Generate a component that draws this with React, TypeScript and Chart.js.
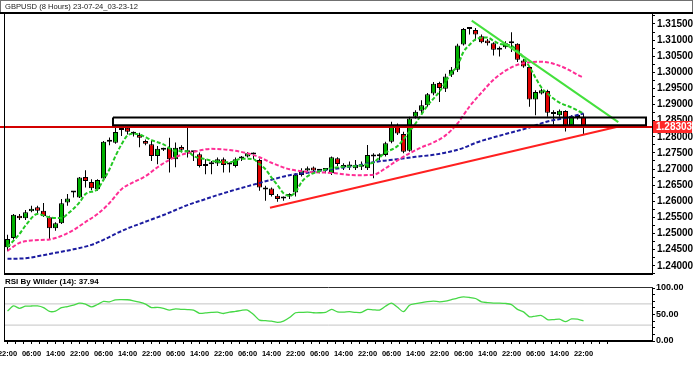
import React, { useEffect, useRef } from 'react';
import { Chart, registerables } from 'chart.js';

Chart.register(...registerables);

const TITLE = 'GBPUSD (8 Hours) 23-07-24_03-23-12';
const RSI_TITLE = 'RSI By Wilder (14): 37.94';
const FONT = '"Liberation Sans", Arial, sans-serif';

// ---- candles (8h bars) ----
const opens = [
  1.24577, 1.24864, 1.25553, 1.25473, 1.25689, 1.25812, 1.25707, 1.25503, 1.25164, 1.25318,
  1.25966, 1.26269, 1.26121, 1.26757, 1.26602, 1.26377, 1.26707, 1.27849, 1.27812, 1.28213,
  1.28281, 1.28105, 1.28059, 1.27868, 1.27766, 1.27405, 1.27611, 1.27664, 1.27303, 1.27682,
  1.27580, 1.27528, 1.27457, 1.27108, 1.27148, 1.27170, 1.27303, 1.27139, 1.27096, 1.27324,
  1.27386, 1.27448, 1.27281, 1.26377, 1.26398, 1.26170, 1.26090, 1.26152, 1.26269, 1.26818,
  1.26954, 1.27047, 1.26948, 1.26979, 1.26871, 1.27334, 1.27127, 1.27078, 1.27025, 1.27071,
  1.27025, 1.27436, 1.27411, 1.27436, 1.27849, 1.28331, 1.28084, 1.27571, 1.28621, 1.28806,
  1.28979, 1.29340, 1.29670, 1.29494, 1.29926, 1.30081, 1.30861, 1.31340, 1.31315, 1.31121,
  1.30985, 1.30905, 1.30698, 1.30781, 1.30898, 1.30883, 1.30368, 1.30164, 1.29155, 1.29340,
  1.29423, 1.28722, 1.28670, 1.28800, 1.28361, 1.28627, 1.28621,
];
const highs = [
  1.24966, 1.25605, 1.25605, 1.25729, 1.25861, 1.25861, 1.25945, 1.25553, 1.25349, 1.26068,
  1.26223, 1.26306, 1.26757, 1.26963, 1.26686, 1.26686, 1.27868, 1.27982, 1.28275, 1.28331,
  1.28321, 1.28167, 1.28127, 1.27920, 1.27868, 1.27713, 1.27664, 1.27972, 1.27827, 1.27735,
  1.28331, 1.27559, 1.27510, 1.27303, 1.27250, 1.27355, 1.27355, 1.27201, 1.27355, 1.27405,
  1.27528, 1.27510, 1.27324, 1.26479, 1.26429, 1.26223, 1.26152, 1.26253, 1.26871, 1.27025,
  1.27078, 1.27078, 1.26994, 1.27025, 1.27386, 1.27365, 1.27179, 1.27232, 1.27281, 1.27232,
  1.27744, 1.27488, 1.27488, 1.27849, 1.28466, 1.28414, 1.28158, 1.28621, 1.28824, 1.29133,
  1.29361, 1.29701, 1.29710, 1.29957, 1.30164, 1.30883, 1.31377, 1.31398, 1.31377, 1.31170,
  1.31037, 1.30936, 1.30800, 1.30966, 1.31244, 1.30905, 1.30420, 1.30182, 1.29442, 1.29494,
  1.29463, 1.28824, 1.28846, 1.28824, 1.28670, 1.28670, 1.28722,
];
const lows = [
  1.24454, 1.24818, 1.25420, 1.25420, 1.25658, 1.25605, 1.25513, 1.24834, 1.25090, 1.25297,
  1.25861, 1.26121, 1.26099, 1.26429, 1.26346, 1.26324, 1.26633, 1.27735, 1.27781, 1.28022,
  1.28074, 1.28013, 1.27673, 1.27735, 1.27250, 1.27148, 1.27559, 1.26892, 1.27056, 1.27510,
  1.27355, 1.27250, 1.27047, 1.26840, 1.26840, 1.27096, 1.26892, 1.26892, 1.27047, 1.27250,
  1.27355, 1.27303, 1.26324, 1.26016, 1.26152, 1.25985, 1.26016, 1.26068, 1.26152, 1.26769,
  1.26923, 1.26892, 1.26871, 1.26871, 1.26818, 1.27096, 1.26973, 1.26973, 1.26973, 1.26973,
  1.26973, 1.26716, 1.27281, 1.27386, 1.27797, 1.28053, 1.27488, 1.27540, 1.28568, 1.28722,
  1.28929, 1.29287, 1.29077, 1.29392, 1.29855, 1.30010, 1.30831, 1.31170, 1.30985, 1.30905,
  1.30831, 1.30522, 1.30491, 1.30729, 1.30627, 1.30318, 1.30142, 1.28929, 1.28670, 1.29309,
  1.28621, 1.28383, 1.28621, 1.28167, 1.28331, 1.28537, 1.28090,
];
const closes = [
  1.24834, 1.25584, 1.25473, 1.25658, 1.25769, 1.25707, 1.25534, 1.25164, 1.25318, 1.25936,
  1.26090, 1.26284, 1.26738, 1.26633, 1.26408, 1.26664, 1.27849, 1.27858, 1.28152, 1.28229,
  1.28158, 1.28096, 1.27972, 1.27787, 1.27405, 1.27633, 1.27602, 1.27303, 1.27664, 1.27596,
  1.27510, 1.27519, 1.27096, 1.27096, 1.27201, 1.27303, 1.27127, 1.27155, 1.27303, 1.27340,
  1.27488, 1.27463, 1.26429, 1.26368, 1.26192, 1.26068, 1.26105, 1.26223, 1.26824, 1.26954,
  1.27025, 1.26954, 1.26963, 1.26969, 1.27365, 1.27158, 1.27056, 1.27127, 1.27127, 1.27081,
  1.27436, 1.27386, 1.27398, 1.27797, 1.28312, 1.28105, 1.27540, 1.28568, 1.28775, 1.28979,
  1.29318, 1.29648, 1.29510, 1.29874, 1.30081, 1.30831, 1.31346, 1.31352, 1.31170, 1.30936,
  1.30905, 1.30698, 1.30760, 1.30905, 1.30911, 1.30389, 1.30182, 1.29155, 1.29392, 1.29442,
  1.28744, 1.28710, 1.28806, 1.28352, 1.28639, 1.28615, 1.28303,
];

// ---- moving averages: [bar index, price] ----
const fastMA = [
  [0, 1.24577], [2, 1.24988], [3, 1.25244], [5, 1.25605], [7, 1.25503], [9, 1.25482],
  [10, 1.25605], [12, 1.25966], [13, 1.26223], [15, 1.26377], [16, 1.26664], [17, 1.26994],
  [18, 1.27405], [19, 1.27766], [20, 1.28044], [21, 1.28096], [22, 1.28074], [24, 1.27898],
  [26, 1.27766], [28, 1.27559], [30, 1.27550], [31, 1.27405], [33, 1.27303], [35, 1.27226],
  [37, 1.27210], [39, 1.27318], [41, 1.27303], [42, 1.27148], [43, 1.26994], [44, 1.26738],
  [45, 1.26500], [46, 1.26253], [47, 1.26170], [48, 1.26284], [49, 1.26592], [50, 1.26778],
  [52, 1.26932], [54, 1.27025], [56, 1.27071], [58, 1.27096], [60, 1.27148], [61, 1.27210],
  [63, 1.27510], [65, 1.27713], [67, 1.28167], [68, 1.28414], [70, 1.28969], [72, 1.29402],
  [74, 1.29988], [75, 1.30204], [76, 1.30636], [77, 1.30852], [78, 1.31022], [79, 1.31068],
  [80, 1.31084], [81, 1.30976], [82, 1.30883], [84, 1.30821], [85, 1.30667], [86, 1.30451],
  [87, 1.30173], [88, 1.29834], [89, 1.29525], [90, 1.29340], [91, 1.29186], [92, 1.29062],
  [94, 1.28908], [96, 1.28722],
];
const midMA = [
  [0, 1.24463], [2, 1.24710], [4, 1.24787], [7, 1.24818], [9, 1.24926], [11, 1.25111],
  [13, 1.25358], [15, 1.25605], [17, 1.25945], [19, 1.26377], [21, 1.26592], [23, 1.26778],
  [25, 1.27056], [27, 1.27287], [29, 1.27442], [31, 1.27534], [34, 1.27627], [37, 1.27590],
  [40, 1.27488], [42, 1.27365], [44, 1.27195], [47, 1.26994], [50, 1.26917], [54, 1.26880],
  [58, 1.26809], [61, 1.26824], [63, 1.27025], [65, 1.27272], [67, 1.27488], [69, 1.27673],
  [71, 1.27827], [73, 1.28044], [75, 1.28414], [77, 1.28939], [79, 1.29371], [81, 1.29772],
  [83, 1.30050], [85, 1.30235], [87, 1.30312], [89, 1.30327], [91, 1.30266], [93, 1.30127],
  [95, 1.29926], [96, 1.29834],
];
const slowMA = [
  [0, 1.24216], [3, 1.24232], [5, 1.24294], [8, 1.24402], [11, 1.24510], [14, 1.24649],
  [16, 1.24803], [18, 1.24988], [20, 1.25158], [22, 1.25297], [24, 1.25436], [26, 1.25574],
  [28, 1.25729], [30, 1.25883], [32, 1.26007], [35, 1.26192], [38, 1.26361], [41, 1.26516],
  [44, 1.26670], [47, 1.26809], [50, 1.26886], [54, 1.26994], [58, 1.27102], [62, 1.27241],
  [65, 1.27303], [68, 1.27380], [71, 1.27442], [74, 1.27550], [76, 1.27658], [78, 1.27812],
  [81, 1.27982], [84, 1.28136], [87, 1.28290], [90, 1.28476], [93, 1.28584], [96, 1.28722],
];

// ---- drawn objects ----
const lastPrice = 1.28303;
const redTrend = [[43.75, 1.25800], [101.67, 1.28312]];
const greenTrend = [[77.37, 1.31602], [101.8, 1.28454]];
const boxStart = 17.58;
const boxEnd = 106.42;
const boxTop = 1.28599;
const boxBottom = 1.28361;

// ---- RSI (14) ----
const rsi = [
  56.4, 66.1, 61.7, 65.6, 66.0, 66.1, 63.0, 55.8, 56.4, 63.0,
  65.0, 67.5, 71.4, 69.5, 64.2, 68.9, 74.7, 73.9, 77.8, 78.2,
  77.8, 75.9, 73.3, 69.5, 63.0, 63.6, 61.7, 58.4, 60.7, 59.7,
  59.3, 58.4, 52.3, 52.9, 53.9, 54.5, 51.9, 54.3, 55.8, 57.8,
  58.4, 50.0, 39.3, 38.3, 37.4, 35.0, 37.4, 44.2, 53.3, 53.9,
  54.5, 53.3, 53.3, 53.9, 59.7, 54.9, 54.5, 55.3, 53.9, 53.9,
  59.7, 58.8, 58.4, 65.6, 71.4, 63.6, 55.3, 67.5, 70.4, 72.4,
  74.3, 75.3, 73.9, 75.3, 78.2, 81.1, 83.1, 82.1, 80.2, 73.9,
  72.4, 71.4, 71.4, 70.8, 68.5, 59.7, 54.9, 45.5, 47.1, 48.1,
  40.3, 40.3, 41.2, 36.4, 41.6, 41.2, 37.94,
];
const rsiLevels = [70, 30];
const rsiLabels = [0, 50, 100];

// ---- time axis labels (one every 4 bars) ----
const timeLabels = [
  '22:00', '06:00', '14:00', '22:00', '06:00', '14:00', '22:00', '06:00', '14:00',
  '22:00', '06:00', '14:00', '22:00', '06:00', '14:00', '22:00', '06:00', '14:00',
  '22:00', '06:00', '14:00', '22:00', '06:00', '14:00', '22:00',
];

// ---- view ranges ----
const X_MIN = -0.41667;
const X_MAX = 107.41667;
const Y_MIN = 1.23745;
const Y_MAX = 1.31809;

const UP = '#00b000';
const DOWN = '#e00000';

const pairs = (arr: number[][]) => arr.map(([x, y]) => ({ x, y }));

export default function App() {
  const mainRef = useRef<HTMLCanvasElement | null>(null);
  const rsiRef = useRef<HTMLCanvasElement | null>(null);

  useEffect(() => {
    const mainFrame = {
      id: 'mainFrame',
      afterDraw(chart: any) {
        const { ctx, chartArea: a } = chart;
        ctx.save();
        // title box
        ctx.strokeStyle = '#707070';
        ctx.lineWidth = 1;
        ctx.strokeRect(0.5, 0.5, chart.width - 1, 13);
        ctx.fillStyle = '#000';
        ctx.fillRect(0, a.top - 2, chart.width, 2);
        // plot frame
        ctx.strokeStyle = '#000';
        ctx.beginPath();
        ctx.moveTo(a.left - 0.5, a.top);
        ctx.lineTo(a.left - 0.5, a.bottom);
        ctx.moveTo(a.right + 0.5, a.top);
        ctx.lineTo(a.right + 0.5, a.bottom);
        ctx.stroke();
        ctx.fillRect(a.left - 1, a.bottom - 1, a.right - a.left + 2, 2);
        // last price tag
        const y = chart.scales.y.getPixelForValue(lastPrice);
        const x = a.right + 1;
        ctx.fillStyle = '#ff2a2a';
        ctx.fillRect(x, Math.round(y) - 6, 39, 12);
        ctx.fillStyle = '#ffffff';
        ctx.font = `bold 10px ${FONT}`;
        ctx.textAlign = 'left';
        ctx.textBaseline = 'middle';
        ctx.fillText(lastPrice.toFixed(5), x + 3, Math.round(y) + 0.5);
        ctx.restore();
      },
    };

    const mainChart = new Chart(mainRef.current as HTMLCanvasElement, {
      type: 'bar',
      data: {
        datasets: [
          {
            type: 'line',
            label: 'zone',
            data: pairs([
              [boxStart, boxTop], [boxEnd, boxTop], [boxEnd, boxBottom],
              [boxStart, boxBottom], [boxStart, boxTop],
            ]),
            borderColor: '#000',
            borderWidth: 2,
            pointRadius: 0,
            tension: 0,
          },
          {
            type: 'line',
            label: 'last',
            data: pairs([[-1.25, lastPrice], [X_MAX, lastPrice]]),
            borderColor: '#d40000',
            borderWidth: 2,
            pointRadius: 0,
            clip: false,
          },
          {
            type: 'line',
            label: 'support',
            data: pairs(redTrend),
            borderColor: '#ff2020',
            borderWidth: 2,
            pointRadius: 0,
          },
          {
            type: 'line',
            label: 'resistance',
            data: pairs(greenTrend),
            borderColor: '#44e03c',
            borderWidth: 2,
            pointRadius: 0,
          },
          {
            type: 'line',
            label: 'fast',
            data: pairs(fastMA),
            borderColor: '#22c822',
            borderWidth: 2,
            borderDash: [4, 2],
            pointRadius: 0,
            cubicInterpolationMode: 'monotone',
          },
          {
            type: 'line',
            label: 'mid',
            data: pairs(midMA),
            borderColor: '#ff2d95',
            borderWidth: 2,
            borderDash: [4, 2],
            pointRadius: 0,
            cubicInterpolationMode: 'monotone',
          },
          {
            type: 'line',
            label: 'slow',
            data: pairs(slowMA),
            borderColor: '#1c1ca0',
            borderWidth: 2,
            borderDash: [4, 2],
            pointRadius: 0,
            cubicInterpolationMode: 'monotone',
          },
          {
            type: 'bar',
            label: 'body',
            data: closes.map((c, i) => ({ x: i, y: [opens[i], c] })) as any,
            backgroundColor: closes.map((c, i) => (c >= opens[i] ? UP : DOWN)),
            borderColor: '#000',
            borderWidth: 1,
            borderSkipped: false,
            grouped: false,
            barPercentage: 1,
            categoryPercentage: 1,
            maxBarThickness: 5,
            minBarLength: 2,
            inflateAmount: 0,
          } as any,
          {
            type: 'bar',
            label: 'wick',
            data: closes.map((_, i) => ({ x: i, y: [lows[i], highs[i]] })) as any,
            backgroundColor: '#000',
            borderWidth: 0,
            grouped: false,
            barPercentage: 1,
            categoryPercentage: 1,
            maxBarThickness: 1,
            inflateAmount: 0,
          } as any,
        ],
      },
      options: {
        responsive: false,
        animation: false,
        events: [],
        layout: { padding: { left: 5, right: 0, top: 0, bottom: 7 } },
        plugins: {
          legend: { display: false },
          tooltip: { enabled: false },
          title: {
            display: true,
            text: TITLE,
            align: 'start',
            color: '#1a1a1a',
            font: { family: FONT, size: 7.6, weight: 'normal', lineHeight: 1.2 },
            padding: { top: 2.44, bottom: 2.44 },
          },
        },
        scales: {
          x: { type: 'linear', min: X_MIN, max: X_MAX, display: false, offset: false },
          y: {
            position: 'right',
            min: Y_MIN,
            max: Y_MAX,
            afterFit: (s: any) => { s.width = 41; },
            border: { display: false },
            grid: { drawOnChartArea: false, drawTicks: true, tickLength: 3, color: '#000' },
            ticks: {
              stepSize: 0.0025,
              includeBounds: false,
              autoSkip: false,
              padding: 2,
              color: '#000',
              font: { family: FONT, size: 10, weight: 'bold' },
              callback: (v: any) => {
                const k = Math.round(Number(v) / 0.005);
                return Math.abs(Number(v) - k * 0.005) < 1e-7 ? Number(v).toFixed(5) : '';
              },
            },
          },
        },
      } as any,
      plugins: [mainFrame],
    });

    const rsiFrame = {
      id: 'rsiFrame',
      afterDraw(chart: any) {
        const { ctx, chartArea: a } = chart;
        ctx.save();
        ctx.strokeStyle = '#000';
        ctx.lineWidth = 1;
        ctx.beginPath();
        ctx.moveTo(a.left - 0.5, a.top - 1);
        ctx.lineTo(a.left - 0.5, a.bottom);
        ctx.moveTo(a.right + 0.5, a.top - 1);
        ctx.lineTo(a.right + 0.5, a.bottom);
        ctx.stroke();
        ctx.strokeStyle = '#303030';
        ctx.beginPath();
        ctx.moveTo(a.left - 1, a.top - 0.5);
        ctx.lineTo(a.right + 1, a.top - 0.5);
        ctx.stroke();
        ctx.fillStyle = '#000';
        ctx.fillRect(a.left - 1, a.bottom - 1, a.right - a.left + 2, 2);
        ctx.restore();
      },
    };

    const xTicks: number[] = [];
    for (let k = 0; k <= 75; k++) xTicks.push((k * 4) / 3);

    const rsiChart = new Chart(rsiRef.current as HTMLCanvasElement, {
      type: 'line',
      data: {
        datasets: [
          {
            label: 'RSI',
            data: rsi.map((v, i) => ({ x: i, y: v })),
            borderColor: '#46d846',
            borderWidth: 1.3,
            pointRadius: 0,
            tension: 0.25,
          },
          ...rsiLevels.map((lv) => ({
            label: 'level ' + lv,
            data: [{ x: X_MIN, y: lv }, { x: X_MAX, y: lv }],
            borderColor: '#c4c4c4',
            borderWidth: 1,
            pointRadius: 0,
          })),
        ],
      },
      options: {
        responsive: false,
        animation: false,
        events: [],
        layout: { padding: { left: 5, right: 0, top: 0, bottom: 0 } },
        plugins: {
          legend: { display: false },
          tooltip: { enabled: false },
          title: {
            display: true,
            text: RSI_TITLE,
            align: 'start',
            color: '#000',
            font: { family: FONT, size: 8, weight: 'bold', lineHeight: 1.2 },
            padding: { top: 1.2, bottom: 1.2 },
          },
        },
        scales: {
          x: {
            type: 'linear',
            min: X_MIN,
            max: X_MAX,
            offset: false,
            afterBuildTicks: (s: any) => { s.ticks = xTicks.map((v) => ({ value: v })); },
            afterFit: (s: any) => { s.height = 35; s.paddingLeft = 0; s.paddingRight = 0; },
            border: { display: false },
            grid: { drawOnChartArea: false, drawTicks: true, tickLength: 3, color: '#000' },
            ticks: {
              autoSkip: false,
              maxRotation: 0,
              padding: 5,
              color: '#000',
              font: { family: FONT, size: 7.5, weight: 'bold' },
              callback: (_v: any, index: number) =>
                index % 3 === 0 && timeLabels[index / 3] ? timeLabels[index / 3] : '',
            },
          },
          y: {
            position: 'right',
            min: 0,
            max: 100,
            afterFit: (s: any) => { s.width = 41; },
            border: { display: false },
            grid: { drawOnChartArea: false, drawTicks: true, tickLength: 3, color: '#000' },
            ticks: {
              stepSize: 12.5,
              autoSkip: false,
              padding: 1,
              color: '#000',
              font: { family: FONT, size: 9, weight: 'bold' },
              callback: (v: any) => (rsiLabels.includes(Number(v)) ? Number(v).toFixed(2) : ''),
            },
          },
        },
      } as any,
      plugins: [rsiFrame],
    });

    return () => {
      mainChart.destroy();
      rsiChart.destroy();
    };
  }, []);

  return (
    <div
      style={{
        position: 'fixed',
        left: 0,
        top: 0,
        width: 693,
        height: 376,
        background: '#ffffff',
        overflow: 'hidden',
      }}
    >
      <canvas
        ref={mainRef}
        width={693}
        height={282}
        style={{ position: 'absolute', left: 0, top: 0, width: 693, height: 282 }}
      />
      <canvas
        ref={rsiRef}
        width={693}
        height={100}
        style={{ position: 'absolute', left: 0, top: 276, width: 693, height: 100 }}
      />
    </div>
  );
}
